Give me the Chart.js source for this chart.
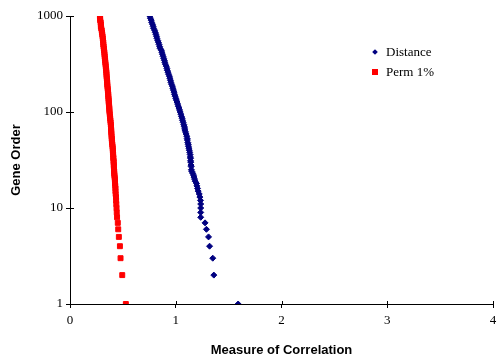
<!DOCTYPE html>
<html>
<head>
<meta charset="utf-8">
<script src="https://cdn.jsdelivr.net/npm/chart.js@4.4.1/dist/chart.umd.min.js"></script>
<style>
    html, body { margin: 0; padding: 0; background: #fff; }
    #wrap { position: relative; width: 498px; height: 362px; }
    #legend { position: absolute; left: 371px; top: 43px; font: 13px "Liberation Serif", serif; color: #000; }
    #legend .row { position: relative; height: 20px; line-height: 18px; padding-left: 15px; }
    #legend .dia { position: absolute; left: 2px; top: 7px; width: 4px; height: 4px; background: #000080; transform: rotate(45deg); }
    #legend .sq { position: absolute; left: 1px; top: 6px; width: 6px; height: 6px; background: #ff0000; }
</style>
</head>
<body>
<div id="wrap">
    <canvas id="chart" width="498" height="362"></canvas>
    <div id="legend">
        <div class="row"><span class="dia"></span>Distance</div>
        <div class="row"><span class="sq"></span>Perm 1%</div>
    </div>
</div>
<script>
/* ------------------------------------------------------------
   Data
   ------------------------------------------------------------ */
const geneOrder = [
    1000, 950, 905, 860, 820, 780, 745, 710, 675, 645, 615, 585, 555, 530, 505,
    480, 460, 440, 420, 400, 380, 362, 345, 330, 315, 300, 285, 272, 260, 248,
    236, 225, 214, 204, 195, 186, 177, 169, 161, 153, 146, 139, 133, 127, 121,
    115, 110, 105, 100, 95, 90, 86, 82, 78, 74, 71, 68, 65, 62, 59,
    56, 53, 51, 48, 46, 44, 42, 40, 38, 36, 34, 33, 31, 30, 28,
    27, 25, 24, 23, 22, 21, 20, 19, 18, 17, 16, 15, 14, 13, 12,
    11, 10, 9, 8, 7, 6, 5, 4, 3, 2, 1
];

const distanceX = [
    0.755, 0.760, 0.768, 0.772, 0.780, 0.786, 0.790, 0.800, 0.806, 0.812, 0.818, 0.822, 0.830, 0.836, 0.842,
    0.848, 0.852, 0.864, 0.868, 0.874, 0.880, 0.886, 0.892, 0.896, 0.902, 0.910, 0.916, 0.920, 0.926, 0.932,
    0.940, 0.944, 0.950, 0.954, 0.960, 0.968, 0.972, 0.978, 0.984, 0.988, 0.994, 1.000, 1.006, 1.012, 1.018,
    1.024, 1.030, 1.036, 1.042, 1.048, 1.054, 1.060, 1.064, 1.070, 1.076, 1.080, 1.084, 1.086, 1.092, 1.098,
    1.104, 1.108, 1.110, 1.114, 1.118, 1.120, 1.124, 1.128, 1.132, 1.136, 1.138, 1.140, 1.140, 1.142, 1.144,
    1.146, 1.148, 1.152, 1.160, 1.168, 1.172, 1.178, 1.184, 1.196, 1.200, 1.206, 1.212, 1.222, 1.228, 1.234,
    1.236, 1.236, 1.236, 1.236, 1.277, 1.290, 1.310, 1.320, 1.350, 1.360, 1.590
];

const permX = [
    0.283, 0.285, 0.285, 0.290, 0.292, 0.292, 0.295, 0.300, 0.302, 0.305, 0.308, 0.310, 0.312, 0.315, 0.315,
    0.318, 0.320, 0.322, 0.325, 0.326, 0.328, 0.330, 0.332, 0.334, 0.336, 0.338, 0.340, 0.342, 0.344, 0.345,
    0.346, 0.348, 0.350, 0.352, 0.352, 0.354, 0.356, 0.358, 0.360, 0.362, 0.362, 0.364, 0.366, 0.366, 0.368,
    0.370, 0.372, 0.372, 0.374, 0.376, 0.378, 0.380, 0.382, 0.384, 0.386, 0.388, 0.388, 0.390, 0.390, 0.392,
    0.393, 0.395, 0.396, 0.398, 0.400, 0.402, 0.404, 0.405, 0.406, 0.408, 0.409, 0.410, 0.412, 0.413, 0.414,
    0.415, 0.416, 0.418, 0.418, 0.420, 0.422, 0.424, 0.425, 0.426, 0.428, 0.430, 0.430, 0.432, 0.435, 0.436,
    0.438, 0.440, 0.442, 0.445, 0.452, 0.456, 0.462, 0.472, 0.478, 0.494, 0.528
];

const xTicks = [0, 1, 2, 3, 4];
const yTicks = [1, 10, 100, 1000];

/* ------------------------------------------------------------
   Small plugin: the inner half of the cross tick marks
   ------------------------------------------------------------ */
const innerTicks = {
    id: "innerTicks",
    afterDraw(chart) {
        const { ctx, chartArea, scales } = chart;
        ctx.save();
        ctx.strokeStyle = "#000";
        ctx.lineWidth = 1;
        ctx.beginPath();
        yTicks.forEach(v => {
            const y = Math.round(scales.y.getPixelForValue(v)) + 0.5;
            ctx.moveTo(chartArea.left, y);
            ctx.lineTo(chartArea.left + 4, y);
        });
        xTicks.forEach(v => {
            const x = Math.round(scales.x.getPixelForValue(v)) + 0.5;
            ctx.moveTo(x, chartArea.bottom);
            ctx.lineTo(x, chartArea.bottom - 3);
        });
        ctx.stroke();
        ctx.restore();
    }
};

const serif = { family: "'Liberation Serif', serif", size: 13 };
const bold = { family: "'Liberation Sans', Arial, sans-serif", size: 13, weight: "bold" };

new Chart(document.getElementById("chart"), {
    type: "scatter",
    data: {
        datasets: [
            {
                label: "Distance",
                data: geneOrder.map((g, i) => ({ x: distanceX[i], y: g })),
                pointStyle: "rectRot",
                pointRadius: 3,
                pointBorderWidth: 1,
                backgroundColor: "#000080",
                borderColor: "#000080"
            },
            {
                label: "Perm 1%",
                data: geneOrder.map((g, i) => ({ x: permX[i], y: g })),
                pointStyle: "rect",
                pointRadius: 3.5,
                pointBorderWidth: 1,
                backgroundColor: "#ff0000",
                borderColor: "#ff0000"
            }
        ]
    },
    options: {
        responsive: false,
        animation: false,
        layout: { padding: { top: 16, right: 4, left: 0, bottom: 0 } },
        plugins: {
            legend: { display: false },
            tooltip: { enabled: false }
        },
        scales: {
            x: {
                type: "linear",
                min: 0,
                max: 4,
                afterBuildTicks: s => { s.ticks = xTicks.map(v => ({ value: v })); },
                afterFit: s => { s.height = 58; s.paddingLeft = 0; s.paddingRight = 0; },
                ticks: { color: "#000", font: serif, padding: 5, maxRotation: 0 },
                grid: { drawOnChartArea: false, tickLength: 4, color: "#000" },
                border: { color: "#000", width: 1 },
                title: { display: true, text: "Measure of Correlation", color: "#000", font: bold, padding: { top: 0, bottom: 4 } }
            },
            y: {
                type: "logarithmic",
                min: 1,
                max: 1000,
                afterBuildTicks: s => { s.ticks = yTicks.map(v => ({ value: v })); },
                afterFit: s => { s.width = 70; s.paddingTop = 0; s.paddingBottom = 0; },
                ticks: { color: "#000", font: serif, padding: 3, callback: v => String(v) },
                grid: { drawOnChartArea: false, tickLength: 4, color: "#000" },
                border: { color: "#000", width: 1 },
                title: { display: true, text: "Gene Order", color: "#000", font: bold, padding: { top: 9, bottom: 0 } }
            }
        }
    },
    plugins: [innerTicks]
});
</script>
</body>
</html>
